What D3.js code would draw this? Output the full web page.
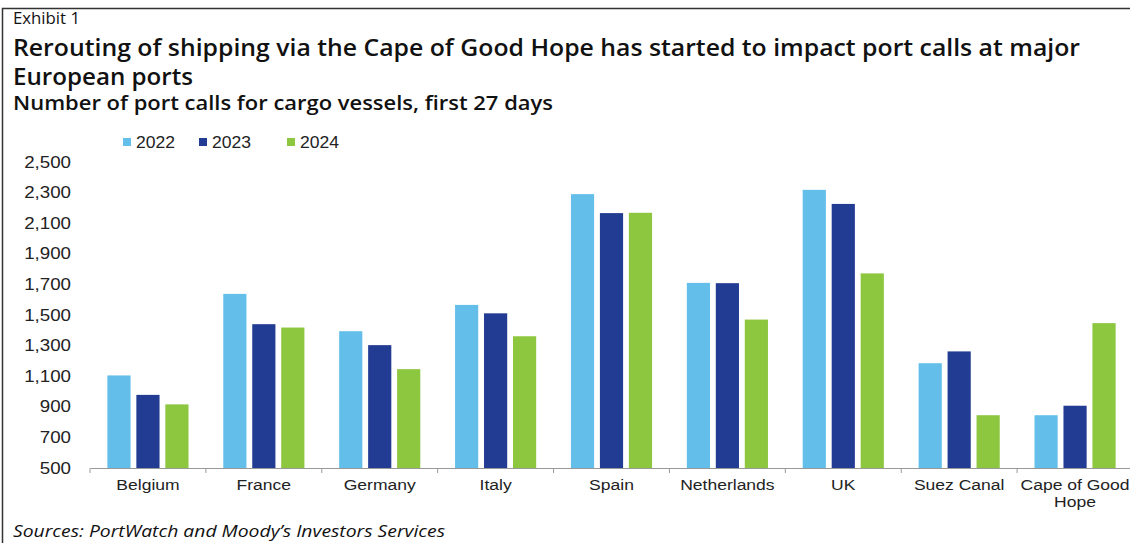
<!DOCTYPE html>
<html>
<head>
<meta charset="utf-8">
<script src="https://cdn.jsdelivr.net/npm/d3@7"></script>
<style>
  body { margin: 0; background: #fff; }
  svg { display: block; }
  .title { font-family: "Open Sans", sans-serif; fill: #111; }
  .axis text { font-family: "Liberation Sans", Arial, sans-serif; fill: #222; }
</style>
</head>
<body>
<div id="chart"></div>
<script>
// data
var categories = ["Belgium", "France", "Germany", "Italy", "Spain", "Netherlands", "UK", "Suez Canal", "Cape of Good Hope"];
var years = ["2022", "2023", "2024"];
var values2022 = [1105, 1638, 1394, 1566, 2290, 1710, 2318, 1185, 845];
var values2023 = [978, 1440, 1303, 1511, 2166, 1708, 2226, 1262, 907];
var values2024 = [916, 1418, 1146, 1361, 2168, 1470, 1772, 845, 1447];
var yTicks = [500, 700, 900, 1100, 1300, 1500, 1700, 1900, 2100, 2300, 2500];
var colors = ["#63bfea", "#233c93", "#8dc63f"];

var width = 1130, height = 543;
var margin = { left: 90, right: -3, top: 162, bottom: 75 };
var graphWidth = width - margin.left - margin.right,
    graphHeight = height - margin.top - margin.bottom;

var series = [values2022, values2023, values2024];
var rows = categories.map(function(c, i) {
  return { name: c, vals: years.map(function(y, j) { return { year: y, value: series[j][i], idx: j }; }) };
});

// the source picture is a bit wider than its fonts, so stretch text to fit
function stretch(sel, k) {
  sel.each(function() {
    var w = this.getComputedTextLength();
    d3.select(this).attr("textLength", w * k).attr("lengthAdjust", "spacingAndGlyphs");
  });
}

var svg = d3.select("#chart").append("svg")
  .attr("width", width)
  .attr("height", height);

// frame
svg.append("path")
  .attr("d", "M2.5,543 L2.5,8.5 L1130,8.5")
  .attr("fill", "none")
  .attr("stroke", "#333")
  .attr("stroke-width", 1.5);

// titles
function addTitle(txt, y, size, weight, style, len) {
  svg.append("text").attr("class", "title")
    .attr("x", 13).attr("y", y)
    .style("font-size", size + "px")
    .style("font-weight", weight)
    .style("font-style", style)
    .attr("textLength", len).attr("lengthAdjust", "spacingAndGlyphs")
    .text(txt);
}
addTitle("Exhibit 1", 24, 16, 400, "normal", 67);
addTitle("Rerouting of shipping via the Cape of Good Hope has started to impact port calls at major", 56, 22.5, 600, "normal", 1067);
addTitle("European ports", 85, 22.5, 600, "normal", 180);
addTitle("Number of port calls for cargo vessels, first 27 days", 110, 19, 600, "normal", 540);
addTitle("Sources: PortWatch and Moody\u2019s Investors Services", 537, 16.5, 400, "italic", 432);

// legend
var legend = svg.append("g").attr("transform", "translate(123,142)");
var legendX = [0, 76, 164];
years.forEach(function(y, j) {
  var g = legend.append("g").attr("transform", "translate(" + legendX[j] + ",0)");
  g.append("rect").attr("x", 0).attr("y", -4).attr("width", 8).attr("height", 8).attr("fill", colors[j]);
  g.append("text").attr("x", 13).attr("y", 0).attr("dy", "0.36em")
    .style("font-family", "Liberation Sans, Arial, sans-serif").style("font-size", "16px").attr("fill", "#222")
    .attr("textLength", 39).attr("lengthAdjust", "spacingAndGlyphs")
    .text(y);
});

var chart = svg.append("g")
  .attr("transform", "translate(" + margin.left + "," + margin.top + ")");

var x0 = d3.scaleBand().domain(categories).range([0, graphWidth]).paddingInner(0.3).paddingOuter(0.15);
var x1 = d3.scaleBand().domain(years).range([0, x0.bandwidth()]).paddingInner(0.2);
var y = d3.scaleLinear().domain([500, 2500]).range([graphHeight, 0]);

// bars
chart.selectAll("g.group").data(rows).enter().append("g")
  .attr("class", "group")
  .attr("transform", function(d) { return "translate(" + x0(d.name) + ",0)"; })
  .selectAll("rect").data(function(d) { return d.vals; }).enter().append("rect")
  .attr("x", function(d) { return x1(d.year); })
  .attr("width", x1.bandwidth())
  .attr("y", function(d) { return y(d.value); })
  .attr("height", function(d) { return graphHeight - y(d.value); })
  .attr("fill", function(d) { return colors[d.idx]; });

// y axis (labels only)
var yAxis = chart.append("g").attr("class", "axis")
  .attr("transform", "translate(-16,0)")
  .call(d3.axisLeft(y).tickValues(yTicks).tickSize(0).tickFormat(d3.format(",")));
yAxis.select(".domain").remove();
yAxis.selectAll("text").style("font-size", "16px");
stretch(yAxis.selectAll("text"), 1.17);

// x axis
var xAxis = chart.append("g").attr("class", "axis")
  .attr("transform", "translate(0," + graphHeight + ")")
  .call(d3.axisBottom(x0).tickSize(0).tickPadding(11));
xAxis.select(".domain").attr("stroke", "#999");
xAxis.selectAll("text").style("font-size", "15.5px");
// wrap the long label
xAxis.selectAll(".tick text").each(function(d) {
  var t = d3.select(this);
  if (d === "Cape of Good Hope") {
    t.text(null);
    t.append("tspan").attr("x", 0).attr("dy", "0.71em").text("Cape of Good");
    t.append("tspan").attr("x", 0).attr("dy", "1.1em").text("Hope");
    stretch(t.selectAll("tspan"), 1.13);
  } else {
    stretch(t, 1.13);
  }
});
// boundary ticks
xAxis.selectAll("line.bound").data(categories.concat([""])).enter().append("line")
  .attr("class", "bound")
  .attr("x1", function(d, i) { return i * x0.step(); })
  .attr("x2", function(d, i) { return i * x0.step(); })
  .attr("y1", 0).attr("y2", 5)
  .attr("stroke", "#999");
</script>
</body>
</html>
